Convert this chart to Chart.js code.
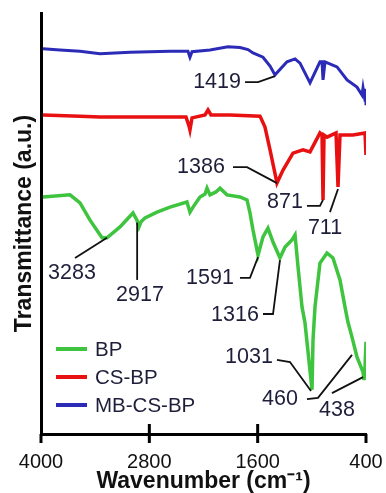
<!DOCTYPE html>
<html lang="en">
<head>
  <meta charset="UTF-8" />
  <title>FTIR spectra</title>
  <script src="https://cdn.jsdelivr.net/npm/chart.js"></script>
  <style>
    html, body { margin: 0; padding: 0; background: #fff; }
    #chart-container { width: 386px; height: 493px; }
  </style>
</head>
<body>
  <div id="chart-container">
    <canvas id="chart" width="386" height="493"></canvas>
  </div>

  <script>
    // wavenumber (cm-1) and transmittance (a.u., offset per trace)
    const bpWave = [3978, 3679, 3568, 3457, 3324, 3269, 3125, 2981, 2937, 2915, 2892, 2848, 2715, 2571, 2383, 2350, 2316, 2239, 2183, 2161, 2128, 2062, 2017, 1940, 1796, 1718, 1685, 1652, 1596, 1541, 1486, 1430, 1353, 1297, 1220, 1186, 1153, 1109, 1076, 998, 987, 965, 910, 832, 766, 688, 633, 600, 555, 500, 433, 422, 411, 400];
    const bpT = [56.3, 56.8, 54.9, 50.8, 46.6, 46.6, 49.2, 52.5, 50.8, 49.2, 50.4, 51.3, 52.7, 53.9, 55.1, 52.7, 53.9, 56.3, 57.0, 58.4, 56.8, 57.5, 58.4, 56.8, 56.3, 55.6, 52.5, 48.5, 42.5, 46.8, 48.9, 45.6, 41.8, 44.4, 46.1, 47.3, 39.7, 30.2, 26.4, 10.5, 22.3, 30.2, 40.6, 43.0, 41.8, 36.6, 30.2, 26.6, 23.0, 18.3, 14.7, 12.8, 15.9, 21.9];

    const csWave = [3978, 3568, 3346, 2793, 2394, 2361, 2350, 2327, 2183, 2150, 2117, 1906, 1574, 1519, 1463, 1386, 1319, 1209, 1098, 1020, 910, 887, 876, 865, 832, 732, 710, 688, 544, 411, 400];
    const csT = [75.8, 75.5, 75.3, 75.3, 75.3, 73.2, 72.2, 75.1, 75.8, 77.0, 75.8, 75.8, 75.5, 72.9, 67.5, 59.6, 62.7, 66.7, 67.5, 67.0, 71.5, 71.0, 55.6, 71.0, 70.5, 71.5, 58.7, 71.0, 71.0, 71.5, 66.3];

    const mbWave = [3978, 3790, 3568, 3346, 3180, 3014, 2793, 2571, 2372, 2350, 2327, 2128, 1929, 1796, 1707, 1652, 1541, 1463, 1408, 1275, 1186, 1131, 1020, 910, 887, 876, 854, 721, 610, 500, 444, 433, 411, 404, 400];
    const mbT = [91.5, 91.2, 90.9, 90.3, 90.5, 90.7, 90.8, 90.9, 90.9, 89.5, 90.8, 91.2, 92.0, 91.8, 91.3, 90.5, 89.5, 87.4, 85.3, 88.4, 89.1, 88.1, 83.4, 88.4, 88.4, 84.1, 88.4, 87.2, 84.1, 82.4, 80.5, 82.2, 79.3, 82.0, 78.1];

    const seriesNames = ['BP', 'CS-BP', 'MB-CS-BP'];
    const seriesColors = ['#3ec43e', '#e81010', '#2b2bb8'];
    const xTicks = [400, 1600, 2800, 4000];

    // peak labels: text position and leader line, in (wavenumber, a.u.)
    const peakLabels = ['1419', '1386', '871', '711', '3283', '2917', '1591', '1316', '1031', '460', '438'];
    const peakTextAt = [[2050, 83.6], [2228, 63.4], [1297, 55.1], [854, 48.9], [3657, 38.2], [2903, 33.0], [2128, 37.1], [1851, 28.3], [1696, 18.3], [1353, 8.3], [721, 5.7]];
    const peakLines = [
      [[1740, 83.6], [1596, 83.6], [1408, 85.0]],
      [[1873, 63.4], [1718, 63.4], [1386, 59.6]],
      [[1054, 54.2], [910, 54.2], [876, 55.6]],
      [[799, 52.7], [710, 58.2]],
      [[3623, 41.8], [3269, 46.6]],
      [[2935, 50.2], [2935, 36.6]],
      [[1796, 37.1], [1685, 37.1], [1596, 42.0]],
      [[1541, 28.5], [1430, 28.5], [1353, 41.3]],
      [[1386, 17.6], [1242, 17.1], [1009, 10.2]],
      [[1054, 8.3], [932, 8.6], [555, 18.8]],
      [[777, 9.7], [433, 13.5]]
    ];

    const pts = (xs, ys) => xs.map((x, i) => ({ x: x, y: ys[i] }));

    const annotate = {
      id: 'annotate',
      afterDatasetsDraw(chart) {
        const ctx = chart.ctx;
        const sx = chart.scales.x, sy = chart.scales.y;
        const area = chart.chartArea;
        ctx.save();
        // leader lines
        ctx.strokeStyle = '#111';
        ctx.lineWidth = 1.8;
        peakLines.forEach(line => {
          ctx.beginPath();
          line.forEach((p, i) => {
            const px = sx.getPixelForValue(p[0]), py = sy.getPixelForValue(p[1]);
            if (i === 0) ctx.moveTo(px, py); else ctx.lineTo(px, py);
          });
          ctx.stroke();
        });
        ctx.fillStyle = '#1e1e3a';
        ctx.font = '21.5px Arial, "Liberation Sans"';
        ctx.textAlign = 'center';
        ctx.textBaseline = 'middle';
        peakLabels.forEach((t, i) => {
          ctx.fillText(t, sx.getPixelForValue(peakTextAt[i][0]), sy.getPixelForValue(peakTextAt[i][1]));
        });

        // x ticks crossing the axis
        ctx.strokeStyle = '#000';
        ctx.lineWidth = 3;
        xTicks.forEach(v => {
          const px = sx.getPixelForValue(v);
          const inner = (v === 4000 || v === 400) ? 0 : 10;
          ctx.beginPath();
          ctx.moveTo(px, area.bottom - inner);
          ctx.lineTo(px, area.bottom + 9);
          ctx.stroke();
        });

        // legend inside plot
        ctx.textAlign = 'left';
        ctx.font = '20.5px Arial, "Liberation Sans"';
        seriesNames.forEach((name, i) => {
          const y = area.top + 336 + i * 28;
          ctx.strokeStyle = seriesColors[i];
          ctx.lineWidth = 4;
          ctx.beginPath();
          ctx.moveTo(area.left + 15, y);
          ctx.lineTo(area.left + 46, y);
          ctx.stroke();
          ctx.fillStyle = '#1e1e3a';
          ctx.fillText(name, area.left + 54, y + 1);
        });
        ctx.restore();
      }
    };

    const ctx = document.getElementById('chart').getContext('2d');
    new Chart(ctx, {
      type: 'scatter',
      data: {
        datasets: [
          { label: seriesNames[2], data: pts(mbWave, mbT), borderColor: seriesColors[2], borderWidth: 3 },
          { label: seriesNames[1], data: pts(csWave, csT), borderColor: seriesColors[1], borderWidth: 3.5 },
          { label: seriesNames[0], data: pts(bpWave, bpT), borderColor: seriesColors[0], borderWidth: 3.5 }
        ].map(d => Object.assign(d, { showLine: true, pointRadius: 0, tension: 0, fill: false }))
      },
      options: {
        responsive: false,
        animation: false,
        devicePixelRatio: 1,
        layout: { padding: { top: 13, right: 20, left: 0, bottom: 0 } },
        plugins: { legend: { display: false }, tooltip: { enabled: false } },
        scales: {
          x: {
            type: 'linear',
            reverse: true,
            min: 400,
            max: 4000,
            afterFit: s => { s.height = 59; s.paddingLeft = 0; s.paddingRight = 0; },
            afterBuildTicks: s => { s.ticks = xTicks.map(v => ({ value: v })); },
            grid: { display: false },
            border: { display: true, color: '#000', width: 3 },
            ticks: {
              color: '#111',
              font: { family: 'Arial, "Liberation Sans"', size: 20 },
              padding: 8,
              maxRotation: 0,
              autoSkip: false,
              callback: v => String(v)
            },
            title: {
              display: true,
              text: 'Wavenumber (cm\u207B\u00B9)',
              color: '#111',
              font: { family: 'Arial, "Liberation Sans"', size: 23, weight: 'bold', lineHeight: 1 },
              padding: { top: 0, bottom: 0 }
            }
          },
          y: {
            min: 0,
            max: 100,
            afterFit: s => { s.width = 41; },
            grid: { display: false },
            border: { display: true, color: '#000', width: 3 },
            ticks: { display: false },
            title: {
              display: true,
              text: 'Transmittance (a.u.)',
              color: '#111',
              font: { family: 'Arial, "Liberation Sans"', size: 23, weight: 'bold', lineHeight: 1 },
              padding: { top: 13, bottom: 0 }
            }
          }
        }
      },
      plugins: [annotate]
    });
  </script>
</body>
</html>
